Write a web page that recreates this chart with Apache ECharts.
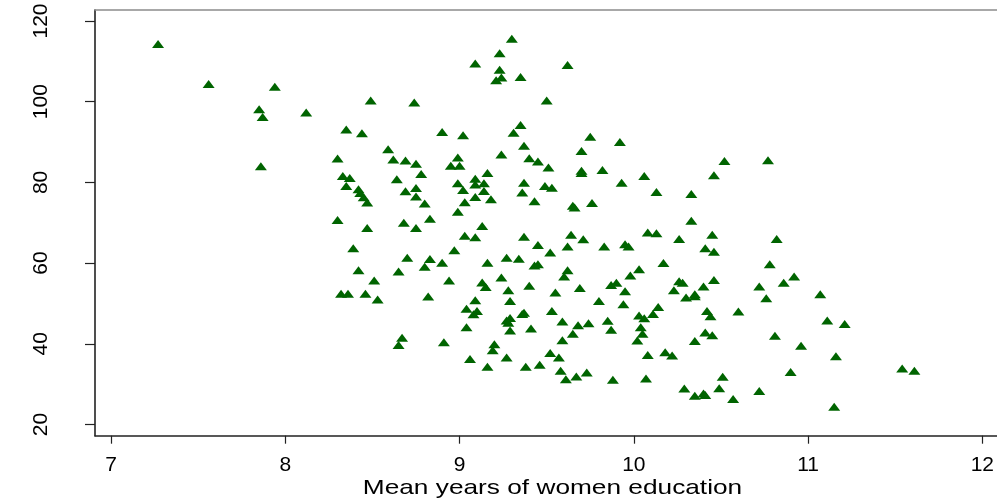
<!DOCTYPE html>
<html>
<head>
<meta charset="utf-8">
<script src="https://cdn.jsdelivr.net/npm/echarts@6/dist/echarts.min.js"></script>
<style>
  html, body { margin: 0; padding: 0; background: #fff; }
  #chart { width: 997px; height: 499px; }
</style>
</head>
<body>
<div id="chart"></div>
<script>
// 横轴: 女性平均受教育年限, 纵轴: 数值
let xTicks = [7, 8, 9, 10, 11, 12];
let yTicks = [20, 40, 60, 80, 100, 120];
let xTitle = "Mean years of women education";

let xVals = [
  7.27, 7.56, 7.94, 8.49, 8.74, 7.85, 7.87, 8.12, 8.35, 8.44,
  8.59, 8.30, 8.62, 8.69, 8.75, 7.86, 8.33, 8.37, 8.78, 8.64,
  8.35, 8.42, 8.43, 8.45, 8.47, 8.69, 8.75, 8.75, 8.30, 8.47,
  8.68, 8.75, 8.39, 8.70, 8.42, 8.65, 8.51, 8.32, 8.36, 8.46,
  8.53, 8.67, 8.65, 9.30, 9.23, 9.09, 9.62, 9.23, 9.24, 9.21,
  9.35, 9.50, 9.35, 9.31, 8.90, 9.02, 9.37, 9.75, 9.92, 9.70,
  9.24, 8.99, 9.40, 9.45, 9.51, 8.95, 9.00, 9.70, 9.70, 9.82,
  9.16, 8.99, 9.09, 9.14, 9.09, 9.37, 9.93, 10.06, 10.46, 10.52,
  9.02, 9.14, 9.09, 9.36, 9.49, 9.53, 10.13, 10.33, 8.80, 9.03,
  9.18, 9.43, 9.65, 9.66, 9.76, 8.99, 8.83, 9.13, 10.33, 9.03,
  9.09, 9.37, 9.64, 9.71, 9.45, 9.62, 9.83, 9.95, 9.97, 10.08,
  10.13, 10.26, 10.45, 10.41, 10.46, 8.97, 9.52, 8.83, 8.80, 8.90,
  9.16, 9.27, 9.34, 9.43, 9.45, 8.94, 9.24, 9.13, 9.15, 9.28,
  9.40, 9.62, 9.60, 9.69, 9.55, 8.82, 9.09, 9.29, 9.04, 9.10,
  9.08, 9.53, 9.37, 9.36, 9.29, 9.27, 9.28, 9.29, 9.04, 9.41,
  9.59, 9.68, 9.74, 9.65, 9.59, 9.80, 9.94, 9.85, 9.87, 9.87,
  9.90, 9.95, 9.98, 10.03, 10.17, 10.26, 10.28, 10.23, 10.30, 10.35,
  10.35, 10.40, 10.46, 10.14, 10.11, 10.03, 10.06, 10.04, 10.05, 10.02,
  10.42, 10.44, 10.41, 10.45, 10.35, 8.91, 9.20, 9.19, 9.06, 9.16,
  9.27, 9.38, 9.46, 9.52, 9.57, 9.58, 9.61, 9.67, 9.73, 9.88,
  10.07, 10.18, 10.22, 10.08, 10.29, 10.35, 10.40, 10.41, 10.49, 10.51,
  10.57, 10.82, 10.78, 10.92, 10.86, 10.72, 10.76, 11.07, 10.60, 11.11,
  11.21, 10.81, 10.96, 11.16, 11.54, 11.61, 10.90, 10.72, 11.15, 10.77
];

let yVals = [
  114.3, 104.4, 103.7, 100.3, 99.8, 98.1, 96.2, 97.3, 93.1, 92.2,
  88.2, 85.9, 85.7, 85.4, 84.6, 84.0, 81.6, 81.1, 82.1, 80.8,
  79.1, 78.3, 77.4, 76.3, 75.0, 77.8, 78.6, 76.5, 70.7, 68.7,
  70.0, 68.7, 63.7, 61.3, 58.2, 57.9, 55.7, 52.4, 52.4, 52.4,
  51.0, 41.5, 39.7, 115.6, 112.0, 109.5, 109.1, 107.9, 106.0, 105.3,
  106.1, 100.3, 94.2, 92.3, 92.5, 91.7, 89.1, 91.3, 90.0, 87.8,
  86.9, 86.2, 86.0, 85.2, 83.7, 84.1, 84.1, 82.9, 82.3, 83.1,
  82.3, 79.8, 80.9, 79.8, 79.5, 79.9, 79.9, 81.6, 81.8, 85.3,
  78.1, 77.9, 76.4, 77.5, 79.1, 78.7, 77.6, 77.1, 74.8, 75.1,
  75.8, 75.3, 74.2, 73.8, 74.9, 72.7, 71.0, 69.2, 70.5, 66.8,
  66.4, 66.5, 67.0, 65.9, 64.5, 64.1, 64.1, 64.7, 64.1, 67.6,
  67.4, 66.0, 67.0, 63.7, 62.8, 63.2, 62.6, 61.0, 59.1, 60.1,
  60.1, 61.3, 61.1, 59.4, 59.7, 55.7, 56.4, 55.2, 54.1, 53.3,
  54.4, 58.2, 56.7, 53.8, 52.7, 51.7, 50.8, 50.6, 48.7, 48.1,
  47.3, 48.1, 47.7, 47.4, 46.4, 45.8, 45.2, 43.3, 44.1, 43.8,
  45.5, 44.6, 45.1, 42.5, 40.9, 50.6, 49.8, 45.7, 43.5, 54.6,
  55.1, 53.0, 56.9, 58.5, 60.0, 55.5, 55.1, 53.3, 51.5, 52.3,
  51.8, 54.2, 55.8, 49.1, 47.4, 47.0, 46.3, 44.1, 42.5, 40.8,
  48.1, 46.8, 42.8, 42.1, 40.7, 40.4, 39.9, 38.4, 36.2, 34.3,
  36.6, 34.3, 34.8, 37.7, 36.6, 33.3, 31.2, 31.9, 32.9, 31.1,
  31.4, 37.9, 37.1, 37.2, 28.9, 27.1, 27.7, 27.3, 29.0, 31.8,
  26.3, 66.0, 59.7, 56.7, 55.1, 54.2, 51.3, 52.3, 48.0, 45.8,
  44.9, 42.0, 39.5, 36.9, 33.9, 33.3, 33.0, 28.3, 24.4, 85.5
];

let points = [];
for (var i = 0; i < xVals.length; i++) {
    points.push([xVals[i], yVals[i]]);
}

let fontName = "'Liberation Sans', Arial, Helvetica, sans-serif";

var myChart = echarts.init(document.getElementById("chart"), null, { renderer: "canvas" });
var option = {
    animation: false,
    backgroundColor: "#fff",
    grid: { left: 95, right: 0, top: 10, bottom: 63.3 },
    xAxis: [{
        type: "value",
        min: 6.908,
        max: 12.083,
        splitLine: { show: false },
        axisLine: { show: true, onZero: false, lineStyle: { color: "#222", width: 1.6 } },
        axisTick: { show: true, length: 8, customValues: xTicks, lineStyle: { color: "#222", width: 1.2 } },
        axisLabel: { customValues: xTicks, color: "#000", fontSize: 21, fontFamily: fontName, margin: 19 }
    }, {
        type: "value",
        position: "top",
        min: 6.908,
        max: 12.083,
        splitLine: { show: false },
        axisLine: { show: true, onZero: false, lineStyle: { color: "#8c8c8c", width: 1.6 } },
        axisTick: { show: false },
        axisLabel: { show: false }
    }],
    yAxis: {
        type: "value",
        min: 17.22,
        max: 122.73,
        splitLine: { show: false },
        axisLine: { show: true, onZero: false, lineStyle: { color: "#222", width: 1.6 } },
        axisTick: { show: true, length: 10, customValues: yTicks, lineStyle: { color: "#222", width: 1.2 } },
        axisLabel: { customValues: yTicks, rotate: 90, color: "#000", fontSize: 21, fontFamily: fontName, margin: 43 }
    },
    graphic: [{
        type: "text",
        x: 552.5,
        y: 488,
        scaleX: 1.25,
        style: {
            text: xTitle,
            font: "21px " + fontName,
            fill: "#000",
            textAlign: "center",
            textVerticalAlign: "middle"
        }
    }],
    series: [{
        type: "scatter",
        xAxisIndex: 0,
        data: points,
        symbol: "triangle",
        symbolSize: [12, 8],
        itemStyle: { color: "#006400", opacity: 1 }
    }]
};
myChart.setOption(option);
</script>
</body>
</html>
